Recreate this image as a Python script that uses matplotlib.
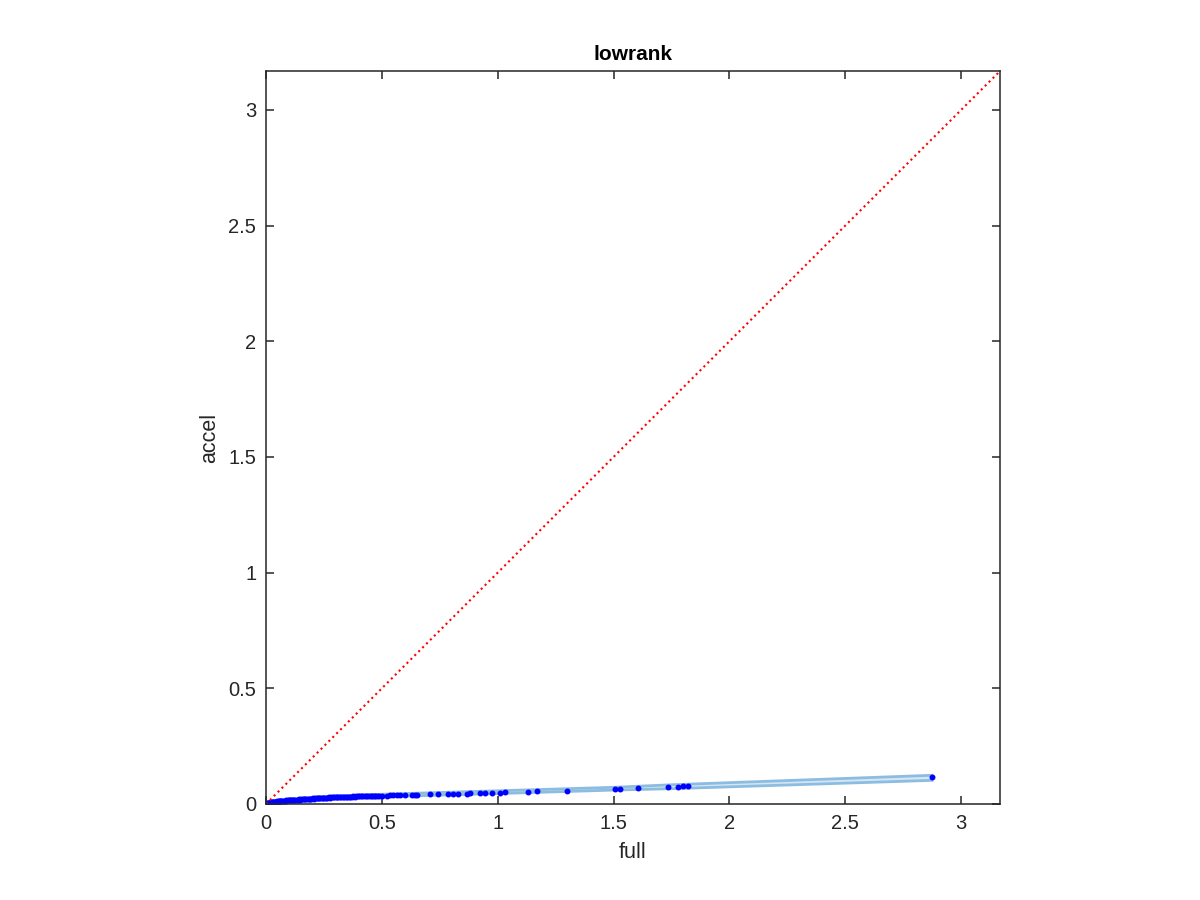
import numpy as np
import matplotlib
matplotlib.use('Agg')
import matplotlib.pyplot as plt

plt.rcParams['font.family'] = ['Liberation Sans', 'DejaVu Sans']

# scatter points: full vs accel
full = [0.0, 0.002, 0.004, 0.006, 0.008, 0.010, 0.012, 0.015, 0.017, 0.020,
        0.022, 0.025, 0.028, 0.031, 0.035, 0.038, 0.042, 0.046, 0.05, 0.054,
        0.058, 0.062, 0.066, 0.070, 0.075, 0.080, 0.084, 0.088, 0.093, 0.098,
        0.102, 0.107, 0.112, 0.117, 0.122, 0.127, 0.132, 0.137, 0.142, 0.147,
        0.152, 0.158, 0.163, 0.168, 0.174, 0.180, 0.185, 0.190, 0.196, 0.202,
        0.207, 0.213, 0.218, 0.224, 0.229, 0.235, 0.24, 0.246, 0.252, 0.258,
        0.264, 0.270, 0.276, 0.282, 0.288, 0.294, 0.3, 0.306, 0.312, 0.318,
        0.325, 0.331, 0.338, 0.345, 0.351, 0.358, 0.364, 0.370, 0.377, 0.384,
        0.39, 0.397, 0.403, 0.410, 0.416, 0.423, 0.43, 0.437, 0.444, 0.451,
        0.458, 0.465, 0.472, 0.479, 0.486,
        0.499, 0.521, 0.535, 0.549, 0.564, 0.578, 0.600, 0.629, 0.643, 0.650,
        0.708, 0.744, 0.787, 0.808, 0.830, 0.866, 0.880, 0.924, 0.945, 0.974,
        1.010, 1.032, 1.13, 1.17, 1.30, 1.506, 1.528, 1.604, 1.736, 1.777,
        1.80, 1.822, 2.874]
accel = [0.0, 0.001, 0.002, 0.003, 0.003, 0.004, 0.005, 0.005, 0.006, 0.007,
         0.006, 0.008, 0.007, 0.009, 0.008, 0.010, 0.009, 0.011, 0.010, 0.012,
         0.011, 0.013, 0.012, 0.013, 0.014, 0.013, 0.015, 0.014, 0.016, 0.015,
         0.016, 0.017, 0.016, 0.018, 0.017, 0.018, 0.019, 0.018, 0.020, 0.019,
         0.020, 0.021, 0.020, 0.021, 0.022, 0.021, 0.023, 0.022, 0.023, 0.024,
         0.023, 0.024, 0.025, 0.024, 0.025, 0.026, 0.025, 0.026, 0.027, 0.026,
         0.027, 0.028, 0.027, 0.028, 0.029, 0.028, 0.029, 0.030, 0.029, 0.030,
         0.030, 0.031, 0.030, 0.031, 0.032, 0.031, 0.032, 0.032, 0.033, 0.032,
         0.033, 0.033, 0.034, 0.033, 0.034, 0.034, 0.034, 0.035, 0.034, 0.035,
         0.035, 0.035, 0.036, 0.035, 0.036,
         0.036, 0.036, 0.037, 0.037, 0.037, 0.038, 0.038, 0.039, 0.039, 0.039,
         0.041, 0.042, 0.043, 0.044, 0.044, 0.045, 0.046, 0.047, 0.047, 0.048,
         0.049, 0.050, 0.053, 0.054, 0.058, 0.065, 0.066, 0.069, 0.074, 0.075,
         0.076, 0.077, 0.118]

# confidence band
band_x = [0.0, 0.25, 0.5, 1.0, 1.5, 1.75, 2.874]
band_lo = [0.0, 0.020, 0.031, 0.045, 0.060, 0.066, 0.102]
band_hi = [0.004, 0.031, 0.042, 0.057, 0.072, 0.083, 0.124]

lim = 3.168

fig = plt.figure(figsize=(12, 9), dpi=100)
ax = fig.add_axes([0.2217, 0.1067, 0.6117, 0.8144])

ax.fill_between(band_x, band_lo, band_hi, color='#d4e6f4', lw=0)
ax.plot(band_x, band_lo, color='#8cbde0', lw=2)
ax.plot(band_x, band_hi, color='#8cbde0', lw=2)
ax.plot(full, accel, '.', color='#0000ff', markersize=6.5)
ax.plot([0, lim], [0, lim], ':', color='#ff0000', lw=1.5)

ax.set_xlim(0, lim)
ax.set_ylim(0, lim)
ticks = [0, 0.5, 1, 1.5, 2, 2.5, 3]
ax.set_xticks(ticks)
ax.set_yticks(ticks)
ax.set_xticklabels(['0', '0.5', '1', '1.5', '2', '2.5', '3'])
ax.set_yticklabels(['0', '0.5', '1', '1.5', '2', '2.5', '3'])
ax.tick_params(direction='in', length=6, width=1.1, top=True, right=True,
               labelsize=14.5, colors='#262626', pad=7)
for s in ax.spines.values():
    s.set_linewidth(1.1)
    s.set_color('#262626')

ax.set_title('lowrank', fontsize=15, fontweight='bold', pad=8)
ax.set_xlabel('full', fontsize=15.5, color='#262626', labelpad=7)
ax.set_ylabel('accel', fontsize=15.5, color='#262626', labelpad=6)

fig.savefig('out.png', dpi=100)
